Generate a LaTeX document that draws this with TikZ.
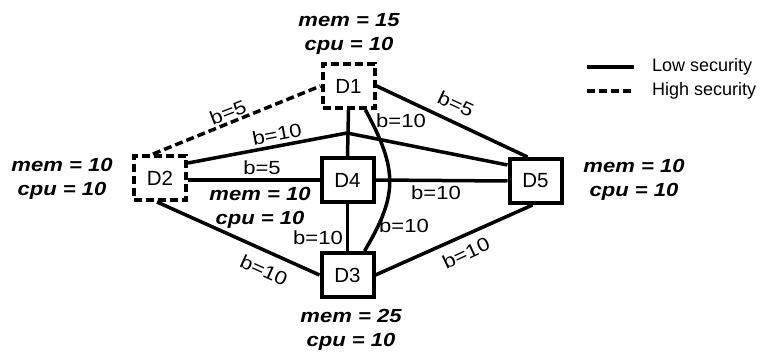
\documentclass[tikz,border=0pt]{standalone}
\usepackage{fontspec}
\setmainfont{Liberation Sans}
\newfontfamily\widesans{Liberation Sans}[FakeStretch=1.16]
\begin{document}
\begin{tikzpicture}[x=1pt,y=-1pt,
  dev/.style={draw, line width=4pt, minimum width=52pt, minimum height=44pt, inner sep=0pt,
    font=\fontsize{20.5}{24}\selectfont},
  hisec/.style={dash pattern=on 8pt off 4pt},
  link/.style={line width=3.5pt},
  blab/.style={font=\widesans\fontsize{19}{22}\selectfont, inner sep=0pt},
  res/.style={font=\widesans\fontsize{19}{24}\selectfont\bfseries\itshape, align=center, inner sep=0pt},
  leg/.style={font=\fontsize{18}{20}\selectfont, inner sep=0pt, anchor=west}]
\useasboundingbox (0,0) rectangle (760,352);

% devices
\node[dev, hisec] (D1) at (348.5,86) {D1};
\node[dev, hisec] (D2) at (160,178) {D2};
\node[dev] (D4) at (347.5,180) {D4};
\node[dev] (D3) at (347.5,275) {D3};
\node[dev] (D5) at (535.5,181) {D5};

% resources
\node[res] (r1) at (349,34) {mem = 15\\cpu = 10};
\node[res] (r2) at (62,179) {mem = 10\\cpu = 10};
\node[res] (r4) at (260,208) {mem = 10\\cpu = 10};
\node[res] (r5) at (634,180) {mem = 10\\cpu = 10};
\node[res] (r3) at (351,330) {mem = 25\\cpu = 10};

\coordinate (peak) at (347,133);

% links
\draw[link, hisec] ([xshift=-7pt]D2.north) -- (D1.west);
\draw[link] (D1.east) -- ([xshift=-8pt]D5.north);
\draw[link] (D1.south) -- (D4.north);
\draw[link] ([xshift=17pt]D1.south) .. controls (398,170) and (398,195) .. ([xshift=17pt]D3.north);
\draw[link] ([yshift=15pt]D2.east) -- (peak) -- ([yshift=16pt]D5.west);
\draw[link] (D2.east |- D4.west) -- (D4.west);
\draw[link] (D4.east) -- (D5.west);
\draw[link] (D4.south) -- (D3.north);
\draw[link] ([xshift=-3pt]D2.south) -- (D3.west);
\draw[link] (D3.east) -- ([xshift=-3pt]D5.south);

% link labels
\node[blab, rotate=21] (l12) at (228,112) {b=5};
\node[blab, rotate=-25] (l15) at (456,104) {b=5};
\node[blab, rotate=11] (l25) at (277,134) {b=10};
\node[blab] (l13a) at (401,121) {b=10};
\node[blab] (l24) at (262,168) {b=5};
\node[blab] (l45) at (436,193) {b=10};
\node[blab] (l43) at (318,238) {b=10};
\node[blab] (l13b) at (404,226) {b=10};
\node[blab, rotate=-24] (l23) at (264,270) {b=10};
\node[blab, rotate=25] (l35) at (466,253) {b=10};

% legend
\coordinate (la) at (587,67);
\coordinate (lb) at (634,67);
\coordinate (lc) at (587,91);
\coordinate (ld) at (634,91);
\draw[link] (la) -- (lb);
\draw[link, hisec] (lc) -- (ld);
\node[leg] (lt1) at (652,67) {Low security};
\node[leg] (lt2) at (652,91) {High security};
\end{tikzpicture}
\end{document}
